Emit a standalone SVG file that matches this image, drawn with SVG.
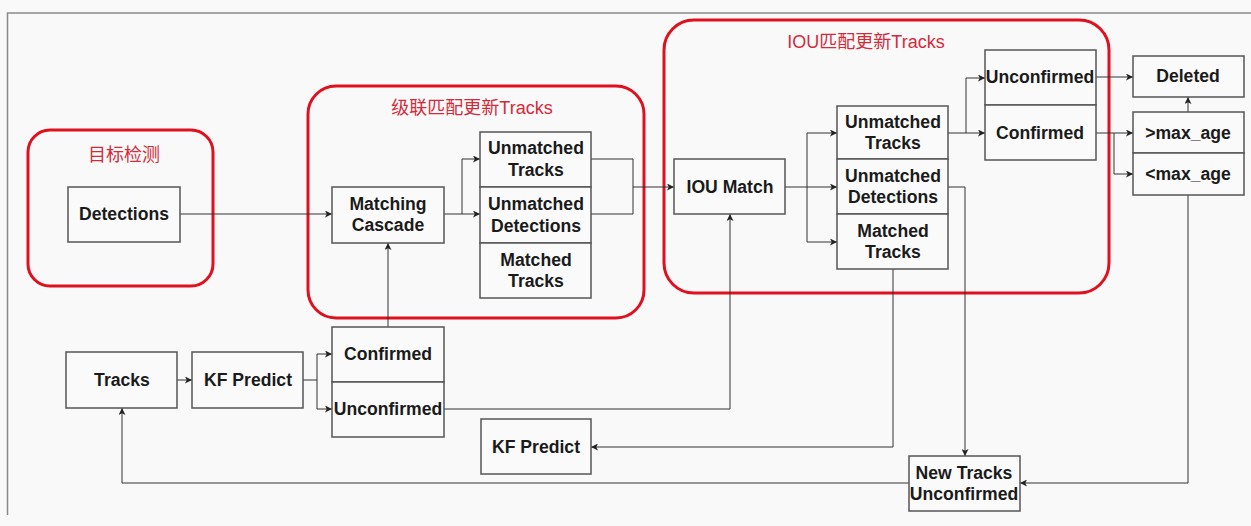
<svg xmlns="http://www.w3.org/2000/svg" width="1251" height="526" viewBox="0 0 1251 526">
<style>
.bg{fill:#f9f9f9}
.frame{fill:none;stroke:#8a8a8a;stroke-width:1.5}
.grp{fill:none;stroke:#e0101e;stroke-width:3}
.gt{font-family:"Liberation Sans","Noto Sans CJK SC",sans-serif;font-size:18px;fill:#d42a3a;text-anchor:middle}
.box{fill:#fafafa;stroke:#555;stroke-width:1.5}
.t{font-family:"Liberation Sans",Arial,sans-serif;font-size:17.6px;font-weight:bold;fill:#1a1a1a;text-anchor:middle}
.c{fill:none;stroke:#333;stroke-width:1}
</style>
<defs>
<marker id="a" viewBox="0 0 8 8" refX="8" refY="4" markerWidth="7" markerHeight="7" markerUnits="userSpaceOnUse" orient="auto">
<path d="M0,0 L8,4 L0,8 L2,4 z" fill="#222"/>
</marker>
</defs>
<rect class="bg" x="0" y="0" width="1251" height="526"/>
<path class="frame" d="M1251,13 H7.5 V515"/>

<g id="group-detect">
<rect class="grp" x="28" y="130" width="185" height="156" rx="22"/>
<text class="gt" x="124" y="161">目标检测</text>
</g>
<g id="group-cascade">
<rect class="grp" x="308" y="86" width="336" height="232" rx="28"/>
<text class="gt" x="472" y="114">级联匹配更新Tracks</text>
</g>
<g id="group-iou">
<rect class="grp" x="664" y="20" width="445" height="273" rx="30"/>
<text class="gt" x="866" y="48">IOU匹配更新Tracks</text>
</g>

<g id="connectors">
<path class="c" d="M180,214 H332" marker-end="url(#a)"/>
<path class="c" d="M444,214 H480" marker-end="url(#a)"/>
<path class="c" d="M462,214 V159 H480" marker-end="url(#a)"/>
<path class="c" d="M591,159 H633 V214 H591"/>
<path class="c" d="M633,187 H674" marker-end="url(#a)"/>
<path class="c" d="M785,187 H837" marker-end="url(#a)"/>
<path class="c" d="M807,187 V133 H837" marker-end="url(#a)"/>
<path class="c" d="M807,187 V242 H837" marker-end="url(#a)"/>
<path class="c" d="M948,133 H985" marker-end="url(#a)"/>
<path class="c" d="M966,133 V78 H985" marker-end="url(#a)"/>
<path class="c" d="M1096,77 H1133" marker-end="url(#a)"/>
<path class="c" d="M1096,133 H1133" marker-end="url(#a)"/>
<path class="c" d="M1114,133 V174 H1133" marker-end="url(#a)"/>
<path class="c" d="M1188,112 V97" marker-end="url(#a)"/>
<path class="c" d="M1188,195 V483 H1020" marker-end="url(#a)"/>
<path class="c" d="M948,187 H965 V456" marker-end="url(#a)"/>
<path class="c" d="M893,269 V447 H591" marker-end="url(#a)"/>
<path class="c" d="M909,483 H122 V408" marker-end="url(#a)"/>
<path class="c" d="M443,409 H730 V214" marker-end="url(#a)"/>
<path class="c" d="M388,327 V243" marker-end="url(#a)"/>
<path class="c" d="M177,380 H192" marker-end="url(#a)"/>
<path class="c" d="M303,380 H317 V354 H332" marker-end="url(#a)"/>
<path class="c" d="M317,380 V409 H332" marker-end="url(#a)"/>
</g>

<g id="detections"><rect class="box" x="68" y="187" width="112" height="55"/><text class="t" x="124" y="220">Detections</text></g>
<g id="matching-cascade"><rect class="box" x="332" y="187" width="112" height="56"/><text class="t" x="388" y="210">Matching</text><text class="t" x="388" y="231">Cascade</text></g>
<g id="mc-unmatched-tracks"><rect class="box" x="480" y="132" width="111" height="55"/><text class="t" x="536" y="154">Unmatched</text><text class="t" x="536" y="176">Tracks</text></g>
<g id="mc-unmatched-detections"><rect class="box" x="480" y="187" width="111" height="56"/><text class="t" x="536" y="210">Unmatched</text><text class="t" x="536" y="232">Detections</text></g>
<g id="mc-matched-tracks"><rect class="box" x="480" y="243" width="111" height="55"/><text class="t" x="536" y="266">Matched</text><text class="t" x="536" y="287">Tracks</text></g>
<g id="iou-match"><rect class="box" x="674" y="159" width="111" height="55"/><text class="t" x="730" y="193">IOU Match</text></g>
<g id="iou-unmatched-tracks"><rect class="box" x="837" y="106" width="111" height="53"/><text class="t" x="893" y="128">Unmatched</text><text class="t" x="893" y="149">Tracks</text></g>
<g id="iou-unmatched-detections"><rect class="box" x="837" y="159" width="111" height="55"/><text class="t" x="893" y="182">Unmatched</text><text class="t" x="893" y="203">Detections</text></g>
<g id="iou-matched-tracks"><rect class="box" x="837" y="214" width="111" height="55"/><text class="t" x="893" y="237">Matched</text><text class="t" x="893" y="258">Tracks</text></g>
<g id="iou-unconfirmed"><rect class="box" x="985" y="50" width="111" height="55"/><text class="t" x="1040" y="83">Unconfirmed</text></g>
<g id="iou-confirmed"><rect class="box" x="985" y="105" width="111" height="55"/><text class="t" x="1040" y="139">Confirmed</text></g>
<g id="deleted"><rect class="box" x="1133" y="56" width="111" height="41"/><text class="t" x="1188" y="82">Deleted</text></g>
<g id="gt-max-age"><rect class="box" x="1133" y="112" width="111" height="41"/><text class="t" x="1188" y="139">&gt;max_age</text></g>
<g id="lt-max-age"><rect class="box" x="1133" y="153" width="111" height="42"/><text class="t" x="1188" y="180">&lt;max_age</text></g>
<g id="tracks"><rect class="box" x="66" y="352" width="111" height="56"/><text class="t" x="122" y="386">Tracks</text></g>
<g id="kf-predict-1"><rect class="box" x="192" y="352" width="111" height="56"/><text class="t" x="248" y="386">KF Predict</text></g>
<g id="confirmed"><rect class="box" x="332" y="327" width="112" height="55"/><text class="t" x="388" y="360">Confirmed</text></g>
<g id="unconfirmed"><rect class="box" x="332" y="382" width="112" height="55"/><text class="t" x="388" y="415">Unconfirmed</text></g>
<g id="kf-predict-2"><rect class="box" x="481" y="419" width="110" height="55"/><text class="t" x="536" y="453">KF Predict</text></g>
<g id="new-tracks"><rect class="box" x="909" y="456" width="111" height="55"/><text class="t" x="964" y="479">New Tracks</text><text class="t" x="964" y="500">Unconfirmed</text></g>
</svg>
